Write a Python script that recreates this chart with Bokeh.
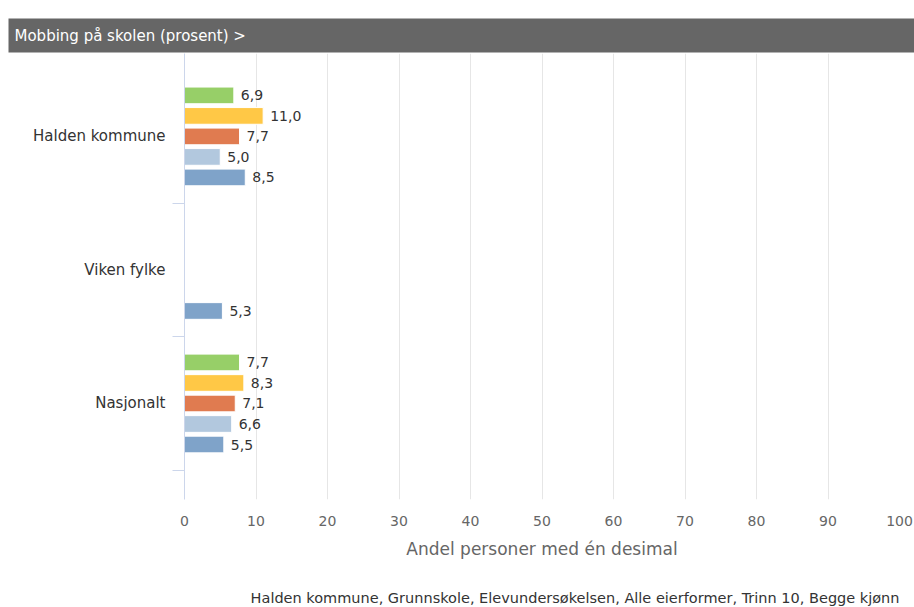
import numpy as np
from bokeh.plotting import figure
from bokeh.models import Range1d, FixedTicker, Title, ColumnDataSource
from bokeh.embed import file_html
from bokeh.resources import INLINE
from bokeh.core.properties import value

# ---- data ----
categories = ["Halden kommune", "Viken fylke", "Nasjonalt"]
series_names = ["2017-18", "2018-19", "2019-20", "2020-21", "2021-22"]
series_colors = ["#97cf68", "#ffc846", "#e07b50", "#b2c8de", "#7fa3c9"]
serie_1 = [6.9, None, 7.7]
serie_2 = [11.0, None, 8.3]
serie_3 = [7.7, None, 7.1]
serie_4 = [5.0, None, 6.6]
serie_5 = [8.5, 5.3, 5.5]
x_ticks = [0, 10, 20, 30, 40, 50, 60, 70, 80, 90, 100]
title_text = "Mobbing på skolen (prosent) >"
x_axis_title = "Andel personer med én desimal"
footnote = "Halden kommune, Grunnskole, Elevundersøkelsen, Alle eierformer, Trinn 10, Begge kjønn"

all_series = [serie_1, serie_2, serie_3, serie_4, serie_5]

FONT = "DejaVu Sans"
W, H = 914, 607
pitch = 0.1536
bar_h = 0.125

p = figure(width=W, height=H, output_backend="svg", toolbar_location=None,
           x_range=Range1d(0, 100), y_range=Range1d(2.719, -0.621),
           min_border_left=184, min_border_right=15, min_border_top=53,
           min_border_bottom=108)
p.outline_line_color = None

for k, (name, col, vals) in enumerate(zip(series_names, series_colors, all_series)):
    ys, xs, labs = [], [], []
    for i, v in enumerate(vals):
        if v is None:
            continue
        ys.append(i + (k - 2) * pitch)
        xs.append(v)
        labs.append(f"{v:.1f}".replace(".", ","))
    src = ColumnDataSource(dict(y=ys, x=xs, label=labs))
    p.hbar(y="y", right="x", left=0, height=bar_h, source=src,
           fill_color=col, line_color="white", line_width=1)
    p.text(x="x", y="y", text="label", source=src, x_offset=7,
           text_baseline="middle", text_font=value(FONT),
           text_font_size="14px", text_color="#333333")

# y axis (categories)
yax = p.yaxis[0]
yax.ticker = FixedTicker(ticks=[0, 1, 2], minor_ticks=[0.5, 1.5, 2.5])
yax.major_label_overrides = {i: c for i, c in enumerate(categories)}
yax.axis_line_color = "#ccd6eb"
yax.major_tick_line_color = None
yax.major_tick_out = 0
yax.major_tick_in = 0
yax.minor_tick_line_color = "#ccd6eb"
yax.minor_tick_out = 12
yax.minor_tick_in = 0
yax.major_label_standoff = 7
yax.major_label_text_font = FONT
yax.major_label_text_font_size = "15px"
yax.major_label_text_color = "#333333"

# x axis
xax = p.xaxis[0]
xax.ticker = FixedTicker(ticks=x_ticks, minor_ticks=[])
xax.axis_line_color = None
xax.major_tick_line_color = None
xax.major_tick_out = 0
xax.major_tick_in = 0
xax.major_label_standoff = 16
xax.major_label_text_font = FONT
xax.major_label_text_font_size = "14px"
xax.major_label_text_color = "#666666"
xax.axis_label = x_axis_title
xax.axis_label_text_font = FONT
xax.axis_label_text_font_size = "17px"
xax.axis_label_text_font_style = "normal"
xax.axis_label_text_color = "#666666"
xax.axis_label_standoff = 10

p.xgrid.ticker = FixedTicker(ticks=x_ticks)
p.xgrid.grid_line_color = "#e6e6e6"
p.ygrid.grid_line_color = None

# title bar
frame_left = 184
head = Title(text=title_text, align="left", offset=8 - frame_left, standoff=0,
             text_color="white", text_font=FONT, text_font_size="15px",
             text_font_style="normal", vertical_align="middle",
             background_fill_color="#666666", background_fill_alpha=1.0,
             padding=dict(left=6, right=900, top=8, bottom=8))
p.add_layout(head, "above")

foot = Title(text=footnote, align="right", offset=0, standoff=0,
             vertical_align="top",
             text_color="#333333", text_font=FONT, text_font_size="14.5px",
             text_font_style="normal",
             padding=dict(left=0, right=0, top=28, bottom=0))
p.add_layout(foot, "below")

open("out.html", "w").write(file_html(p, INLINE))
